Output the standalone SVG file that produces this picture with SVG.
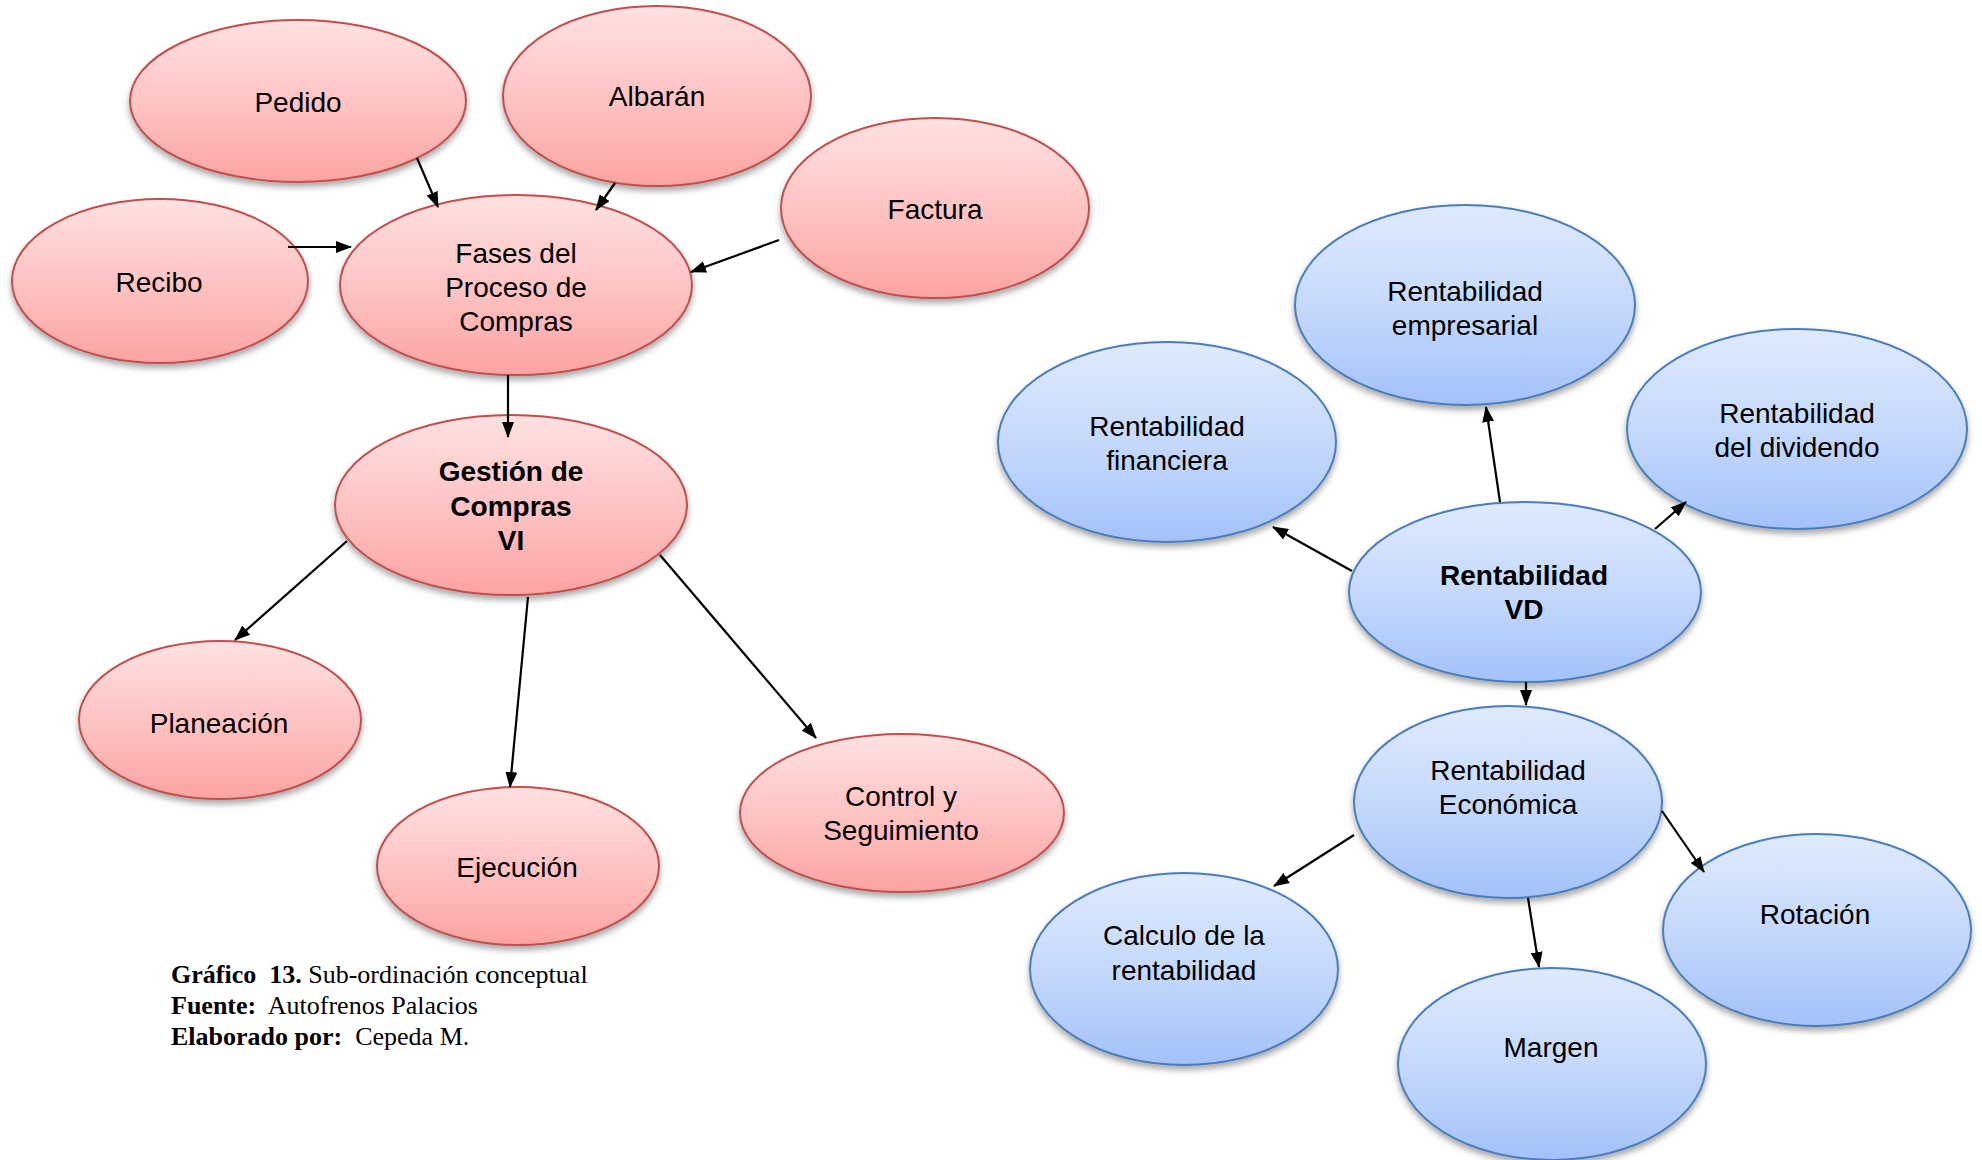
<svg xmlns="http://www.w3.org/2000/svg" width="1982" height="1160" viewBox="0 0 1982 1160">
  <defs>
    <linearGradient id="redFill" x1="0" y1="0" x2="0" y2="1">
      <stop offset="0" stop-color="#ffe1e1"/>
      <stop offset="0.5" stop-color="#fec4c4"/>
      <stop offset="1" stop-color="#fca3a3"/>
    </linearGradient>
    <linearGradient id="blueFill" x1="0" y1="0" x2="0" y2="1">
      <stop offset="0" stop-color="#dfeafe"/>
      <stop offset="0.5" stop-color="#c6d9fc"/>
      <stop offset="1" stop-color="#a3c2fa"/>
    </linearGradient>
    <filter id="shadow" x="-10%" y="-10%" width="120%" height="130%">
      <feDropShadow dx="0" dy="4" stdDeviation="3" flood-color="#000" flood-opacity="0.35"/>
    </filter>
    <marker id="arrow" viewBox="0 0 16 12" refX="15" refY="6" markerWidth="16" markerHeight="12" markerUnits="userSpaceOnUse" orient="auto">
      <path d="M0,0 L16,6 L0,12 Z" fill="#000"/>
    </marker>
  </defs>
  <style>
    .red { fill: url(#redFill); stroke: #c0504d; stroke-width: 2; filter: url(#shadow); }
    .blue { fill: url(#blueFill); stroke: #4a7ebb; stroke-width: 2; filter: url(#shadow); }
    .lbl { font-family: "Liberation Sans", Arial, sans-serif; font-size: 28px; fill: #000; text-anchor: middle; }
    .bold { font-weight: bold; }
    .conn line { stroke: #000; stroke-width: 2.2; marker-end: url(#arrow); }
    .cap { font-family: "Liberation Serif", "Times New Roman", serif; font-size: 26px; fill: #000; white-space: pre; }
  </style>
  <rect width="1982" height="1160" fill="#fff"/>

  <!-- purchasing process (red) -->
  <g id="pedido">
    <ellipse class="red" cx="298" cy="101" rx="168" ry="81"/>
    <text class="lbl" x="298" y="112">Pedido</text>
  </g>
  <g id="albaran">
    <ellipse class="red" cx="657" cy="96" rx="154" ry="90"/>
    <text class="lbl" x="657" y="106">Albarán</text>
  </g>
  <g id="factura">
    <ellipse class="red" cx="935" cy="208" rx="154" ry="90"/>
    <text class="lbl" x="935" y="219">Factura</text>
  </g>
  <g id="recibo">
    <ellipse class="red" cx="160" cy="281" rx="148" ry="82"/>
    <text class="lbl" x="159" y="292">Recibo</text>
  </g>
  <g id="fases">
    <ellipse class="red" cx="516" cy="285" rx="176" ry="90"/>
    <text class="lbl" x="516" y="263">Fases del</text>
    <text class="lbl" x="516" y="297">Proceso de</text>
    <text class="lbl" x="516" y="331">Compras</text>
  </g>
  <g id="gestion">
    <ellipse class="red" cx="511" cy="505" rx="176" ry="90"/>
    <text class="lbl bold" x="511" y="481">Gestión de</text>
    <text class="lbl bold" x="511" y="516">Compras</text>
    <text class="lbl bold" x="511" y="550">VI</text>
  </g>
  <g id="planeacion">
    <ellipse class="red" cx="220" cy="720" rx="141" ry="79"/>
    <text class="lbl" x="219" y="733">Planeación</text>
  </g>
  <g id="ejecucion">
    <ellipse class="red" cx="518" cy="866" rx="141" ry="79"/>
    <text class="lbl" x="517" y="877">Ejecución</text>
  </g>
  <g id="control">
    <ellipse class="red" cx="902" cy="813" rx="162" ry="79"/>
    <text class="lbl" x="901" y="806">Control y</text>
    <text class="lbl" x="901" y="840">Seguimiento</text>
  </g>

  <!-- profitability (blue) -->
  <g id="empresarial">
    <ellipse class="blue" cx="1465" cy="305" rx="170" ry="100"/>
    <text class="lbl" x="1465" y="301">Rentabilidad</text>
    <text class="lbl" x="1465" y="335">empresarial</text>
  </g>
  <g id="financiera">
    <ellipse class="blue" cx="1167" cy="442" rx="169" ry="100"/>
    <text class="lbl" x="1167" y="436">Rentabilidad</text>
    <text class="lbl" x="1167" y="470">financiera</text>
  </g>
  <g id="dividendo">
    <ellipse class="blue" cx="1797" cy="429" rx="170" ry="100"/>
    <text class="lbl" x="1797" y="423">Rentabilidad</text>
    <text class="lbl" x="1797" y="457">del dividendo</text>
  </g>
  <g id="vd">
    <ellipse class="blue" cx="1525" cy="592" rx="176" ry="90"/>
    <text class="lbl bold" x="1524" y="585">Rentabilidad</text>
    <text class="lbl bold" x="1524" y="619">VD</text>
  </g>
  <g id="economica">
    <ellipse class="blue" cx="1508" cy="802" rx="154" ry="96"/>
    <text class="lbl" x="1508" y="780">Rentabilidad</text>
    <text class="lbl" x="1508" y="814">Económica</text>
  </g>
  <g id="calculo">
    <ellipse class="blue" cx="1184" cy="969" rx="154" ry="96"/>
    <text class="lbl" x="1184" y="945">Calculo de la</text>
    <text class="lbl" x="1184" y="980">rentabilidad</text>
  </g>
  <g id="rotacion">
    <ellipse class="blue" cx="1817" cy="930" rx="154" ry="96"/>
    <text class="lbl" x="1815" y="924">Rotación</text>
  </g>
  <g id="margen">
    <ellipse class="blue" cx="1552" cy="1064" rx="154" ry="96"/>
    <text class="lbl" x="1551" y="1057">Margen</text>
  </g>

  <!-- connectors, drawn over the nodes so arrowheads stay visible -->
  <g id="connectors" class="conn">
    <line x1="417" y1="158" x2="438" y2="207"/>
    <line x1="615" y1="183" x2="596" y2="210"/>
    <line x1="288" y1="247" x2="351" y2="247"/>
    <line x1="779" y1="240" x2="691" y2="272"/>
    <line x1="508" y1="375" x2="508" y2="437"/>
    <line x1="347" y1="541" x2="235" y2="640"/>
    <line x1="528" y1="597" x2="510" y2="787"/>
    <line x1="660" y1="555" x2="816" y2="738"/>
    <line x1="1352" y1="571" x2="1273" y2="527"/>
    <line x1="1500" y1="502" x2="1486" y2="407"/>
    <line x1="1655" y1="529" x2="1686" y2="502"/>
    <line x1="1526" y1="682" x2="1526" y2="705"/>
    <line x1="1354" y1="835" x2="1274" y2="886"/>
    <line x1="1528" y1="898" x2="1539" y2="967"/>
    <line x1="1662" y1="811" x2="1704" y2="872"/>
  </g>

  <!-- caption -->
  <g id="caption" class="cap">
    <text x="171" y="983" xml:space="preserve"><tspan font-weight="bold">Gráfico  13.</tspan> Sub-ordinación conceptual</text>
    <text x="171" y="1014" xml:space="preserve"><tspan font-weight="bold">Fuente:</tspan>  Autofrenos Palacios</text>
    <text x="171" y="1045" xml:space="preserve"><tspan font-weight="bold">Elaborado por:</tspan>  Cepeda M.</text>
  </g>
</svg>
